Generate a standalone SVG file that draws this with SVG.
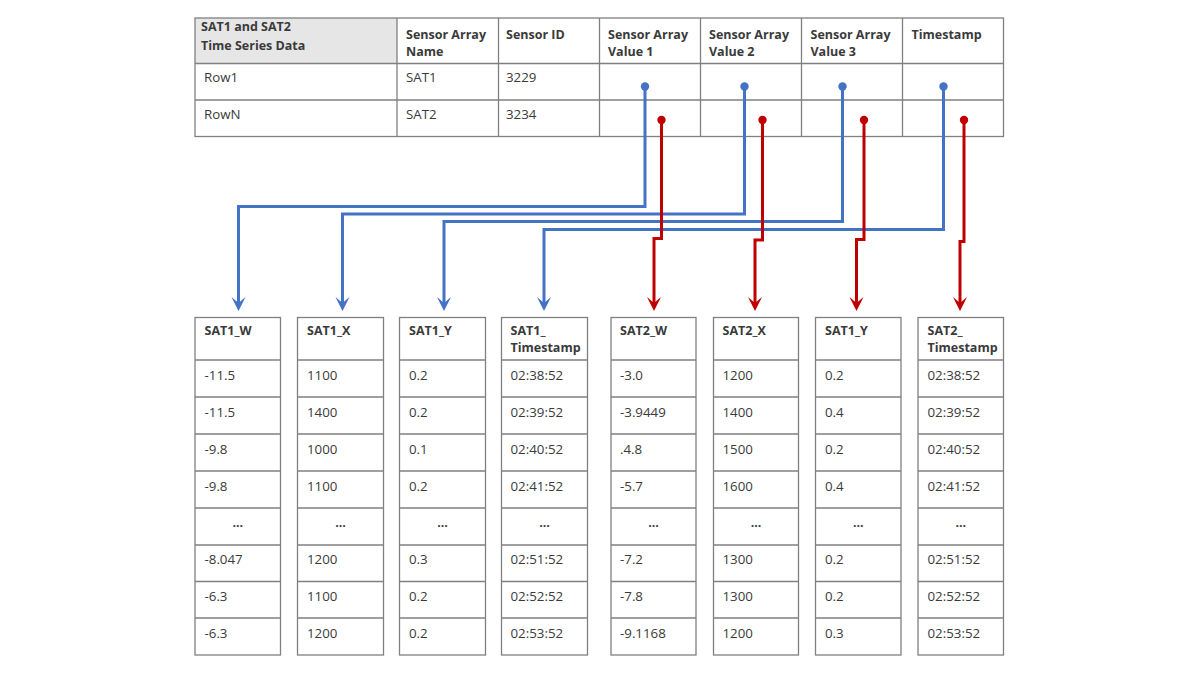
<svg xmlns="http://www.w3.org/2000/svg" width="1200" height="675" viewBox="0 0 1200 675">
<style>
.bg{fill:#ffffff}
.cell{fill:none;stroke:#808080;stroke-width:1.3}
.ln{stroke:#808080;stroke-width:1.3}
.hfill{fill:#e7e6e6}
text{font-family:"Open Sans","Noto Sans","DejaVu Sans",sans-serif;font-size:13.3px;fill:#3a3a3a}
.b{font-weight:bold;font-size:12.5px}
.c{text-anchor:middle}
.blue{fill:none;stroke:#4472c4;stroke-width:3}
.red{fill:none;stroke:#c00000;stroke-width:3}
</style>
<defs>
<marker id="ab" markerUnits="userSpaceOnUse" markerWidth="16" markerHeight="16" viewBox="0 -8 16 16" refX="6" refY="0" orient="auto">
<path d="M0,-7 L14,0 L0,7 L6,0 z" fill="#4472c4"/>
</marker>
<marker id="ar" markerUnits="userSpaceOnUse" markerWidth="16" markerHeight="16" viewBox="0 -8 16 16" refX="6" refY="0" orient="auto">
<path d="M0,-7 L14,0 L0,7 L6,0 z" fill="#c00000"/>
</marker>
</defs>
<rect class="bg" x="0" y="0" width="1200" height="675"/>

<g id="source-table">
<rect class="hfill" x="195" y="18" width="202" height="45.5"/>
<rect class="cell" x="195" y="18" width="808.5" height="118.5"/>
<line class="ln" x1="195" y1="63.5" x2="1003.5" y2="63.5"/>
<line class="ln" x1="195" y1="100" x2="1003.5" y2="100"/>
<line class="ln" x1="397" y1="18" x2="397" y2="136.5"/>
<line class="ln" x1="498.5" y1="18" x2="498.5" y2="136.5"/>
<line class="ln" x1="599.5" y1="18" x2="599.5" y2="136.5"/>
<line class="ln" x1="700.5" y1="18" x2="700.5" y2="136.5"/>
<line class="ln" x1="801.5" y1="18" x2="801.5" y2="136.5"/>
<line class="ln" x1="902.5" y1="18" x2="902.5" y2="136.5"/>
<text class="b" x="201" y="31">SAT1 and SAT2</text>
<text class="b" x="201" y="49.5">Time Series Data</text>
<text class="b" x="406" y="38.5">Sensor Array</text>
<text class="b" x="406" y="55.5">Name</text>
<text class="b" x="506" y="38.5">Sensor ID</text>
<text class="b" x="608" y="38.5">Sensor Array</text>
<text class="b" x="608" y="55.5">Value 1</text>
<text class="b" x="709" y="38.5">Sensor Array</text>
<text class="b" x="709" y="55.5">Value 2</text>
<text class="b" x="810.5" y="38.5">Sensor Array</text>
<text class="b" x="810.5" y="55.5">Value 3</text>
<text class="b" x="911.5" y="38.5">Timestamp</text>
<text x="204" y="81.5">Row1</text>
<text x="406" y="81.5">SAT1</text>
<text x="506" y="81.5">3229</text>
<text x="204" y="119">RowN</text>
<text x="406" y="119">SAT2</text>
<text x="506" y="119">3234</text>
</g>

<g id="connectors">
<path class="blue" d="M645,86.5 V206.5 H238.5 V303" marker-end="url(#ab)"/>
<path class="blue" d="M744.5,86.5 V214 H342.5 V303" marker-end="url(#ab)"/>
<path class="blue" d="M842.5,86.5 V221.5 H444 V303" marker-end="url(#ab)"/>
<path class="blue" d="M943.5,86.5 V229.5 H544 V303" marker-end="url(#ab)"/>
<path class="red" d="M661.5,120 V238.5 H654 V303" marker-end="url(#ar)"/>
<path class="red" d="M762.5,120 V240 H755 V303" marker-end="url(#ar)"/>
<path class="red" d="M864,120 V239.5 H856.5 V303" marker-end="url(#ar)"/>
<path class="red" d="M964,120 V241.5 H960 V303" marker-end="url(#ar)"/>
<circle cx="645" cy="86.5" r="4.2" fill="#4472c4"/>
<circle cx="744.5" cy="86.5" r="4.2" fill="#4472c4"/>
<circle cx="842.5" cy="86.5" r="4.2" fill="#4472c4"/>
<circle cx="943.5" cy="86.5" r="4.2" fill="#4472c4"/>
<circle cx="661.5" cy="120" r="4.2" fill="#c00000"/>
<circle cx="762.5" cy="120" r="4.2" fill="#c00000"/>
<circle cx="864" cy="120" r="4.2" fill="#c00000"/>
<circle cx="964" cy="120" r="4.2" fill="#c00000"/>
</g>

<g id="sat1-w">
<rect class="cell" x="195" y="317.5" width="85.5" height="337.5"/>
<path class="ln" d="M195,360H280.5M195,397H280.5M195,434H280.5M195,471H280.5M195,508H280.5M195,545H280.5M195,581.5H280.5M195,618H280.5"/>
<text class="b" x="204.5" y="335">SAT1_W</text>
<text x="204.5" y="380">-11.5</text>
<text x="204.5" y="417">-11.5</text>
<text x="204.5" y="454">-9.8</text>
<text x="204.5" y="490.5">-9.8</text>
<text class="b c" x="237.75" y="527">...</text>
<text x="204.5" y="564">-8.047</text>
<text x="204.5" y="601">-6.3</text>
<text x="204.5" y="637.5">-6.3</text>
</g>

<g id="sat1-x">
<rect class="cell" x="297.5" y="317.5" width="86" height="337.5"/>
<path class="ln" d="M297.5,360H383.5M297.5,397H383.5M297.5,434H383.5M297.5,471H383.5M297.5,508H383.5M297.5,545H383.5M297.5,581.5H383.5M297.5,618H383.5"/>
<text class="b" x="307" y="335">SAT1_X</text>
<text x="307" y="380">1100</text>
<text x="307" y="417">1400</text>
<text x="307" y="454">1000</text>
<text x="307" y="490.5">1100</text>
<text class="b c" x="340.5" y="527">...</text>
<text x="307" y="564">1200</text>
<text x="307" y="601">1100</text>
<text x="307" y="637.5">1200</text>
</g>

<g id="sat1-y">
<rect class="cell" x="399.5" y="317.5" width="86" height="337.5"/>
<path class="ln" d="M399.5,360H485.5M399.5,397H485.5M399.5,434H485.5M399.5,471H485.5M399.5,508H485.5M399.5,545H485.5M399.5,581.5H485.5M399.5,618H485.5"/>
<text class="b" x="409" y="335">SAT1_Y</text>
<text x="409" y="380">0.2</text>
<text x="409" y="417">0.2</text>
<text x="409" y="454">0.1</text>
<text x="409" y="490.5">0.2</text>
<text class="b c" x="442.5" y="527">...</text>
<text x="409" y="564">0.3</text>
<text x="409" y="601">0.2</text>
<text x="409" y="637.5">0.2</text>
</g>

<g id="sat1-timestamp">
<rect class="cell" x="501.5" y="317.5" width="86" height="337.5"/>
<path class="ln" d="M501.5,360H587.5M501.5,397H587.5M501.5,434H587.5M501.5,471H587.5M501.5,508H587.5M501.5,545H587.5M501.5,581.5H587.5M501.5,618H587.5"/>
<text class="b" x="510.5" y="335">SAT1_</text>
<text class="b" x="510.5" y="352">Timestamp</text>
<text x="510.5" y="380">02:38:52</text>
<text x="510.5" y="417">02:39:52</text>
<text x="510.5" y="454">02:40:52</text>
<text x="510.5" y="490.5">02:41:52</text>
<text class="b c" x="544.5" y="527">...</text>
<text x="510.5" y="564">02:51:52</text>
<text x="510.5" y="601">02:52:52</text>
<text x="510.5" y="637.5">02:53:52</text>
</g>

<g id="sat2-w">
<rect class="cell" x="611" y="317.5" width="85" height="337.5"/>
<path class="ln" d="M611,360H696M611,397H696M611,434H696M611,471H696M611,508H696M611,545H696M611,581.5H696M611,618H696"/>
<text class="b" x="620" y="335">SAT2_W</text>
<text x="620" y="380">-3.0</text>
<text x="620" y="417">-3.9449</text>
<text x="620" y="454">.4.8</text>
<text x="620" y="490.5">-5.7</text>
<text class="b c" x="653.5" y="527">...</text>
<text x="620" y="564">-7.2</text>
<text x="620" y="601">-7.8</text>
<text x="620" y="637.5">-9.1168</text>
</g>

<g id="sat2-x">
<rect class="cell" x="713.5" y="317.5" width="85" height="337.5"/>
<path class="ln" d="M713.5,360H798.5M713.5,397H798.5M713.5,434H798.5M713.5,471H798.5M713.5,508H798.5M713.5,545H798.5M713.5,581.5H798.5M713.5,618H798.5"/>
<text class="b" x="722.5" y="335">SAT2_X</text>
<text x="722.5" y="380">1200</text>
<text x="722.5" y="417">1400</text>
<text x="722.5" y="454">1500</text>
<text x="722.5" y="490.5">1600</text>
<text class="b c" x="756" y="527">...</text>
<text x="722.5" y="564">1300</text>
<text x="722.5" y="601">1300</text>
<text x="722.5" y="637.5">1200</text>
</g>

<g id="sat2-y">
<rect class="cell" x="815.5" y="317.5" width="85.5" height="337.5"/>
<path class="ln" d="M815.5,360H901M815.5,397H901M815.5,434H901M815.5,471H901M815.5,508H901M815.5,545H901M815.5,581.5H901M815.5,618H901"/>
<text class="b" x="825" y="335">SAT1_Y</text>
<text x="825" y="380">0.2</text>
<text x="825" y="417">0.4</text>
<text x="825" y="454">0.2</text>
<text x="825" y="490.5">0.4</text>
<text class="b c" x="858.25" y="527">...</text>
<text x="825" y="564">0.2</text>
<text x="825" y="601">0.2</text>
<text x="825" y="637.5">0.3</text>
</g>

<g id="sat2-timestamp">
<rect class="cell" x="918" y="317.5" width="85.5" height="337.5"/>
<path class="ln" d="M918,360H1003.5M918,397H1003.5M918,434H1003.5M918,471H1003.5M918,508H1003.5M918,545H1003.5M918,581.5H1003.5M918,618H1003.5"/>
<text class="b" x="927.5" y="335">SAT2_</text>
<text class="b" x="927.5" y="352">Timestamp</text>
<text x="927.5" y="380">02:38:52</text>
<text x="927.5" y="417">02:39:52</text>
<text x="927.5" y="454">02:40:52</text>
<text x="927.5" y="490.5">02:41:52</text>
<text class="b c" x="960.75" y="527">...</text>
<text x="927.5" y="564">02:51:52</text>
<text x="927.5" y="601">02:52:52</text>
<text x="927.5" y="637.5">02:53:52</text>
</g>
</svg>
